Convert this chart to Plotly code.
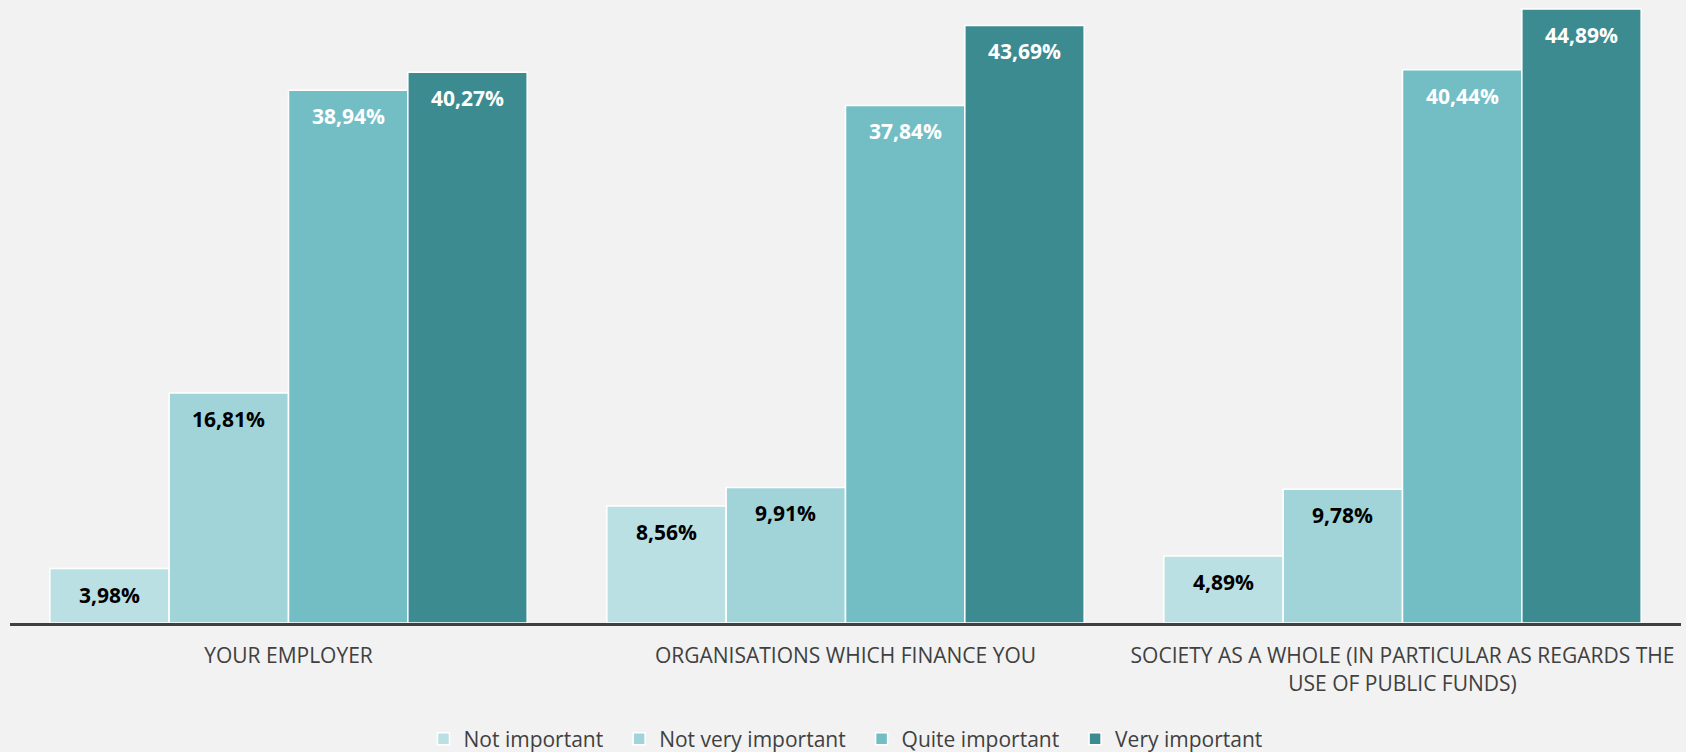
import plotly.graph_objects as go

categories = [
    "YOUR EMPLOYER",
    "ORGANISATIONS WHICH FINANCE YOU",
    "SOCIETY AS A WHOLE (IN PARTICULAR AS REGARDS THE<br>USE OF PUBLIC FUNDS)",
]
series_names = ["Not important", "Not very important", "Quite important", "Very important"]
not_important = [3.98, 8.56, 4.89]
not_very_important = [16.81, 9.91, 9.78]
quite_important = [38.94, 37.84, 40.44]
very_important = [40.27, 43.69, 44.89]

values = [not_important, not_very_important, quite_important, very_important]
colors = ["#BAE0E3", "#A0D4D8", "#73BEC5", "#3C8B91"]
text_colors = ["#000000", "#000000", "#FFFFFF", "#FFFFFF"]

FONT = "Open Sans"
BARGAP = 0.143

fig = go.Figure()
for k, (name, vals, col) in enumerate(zip(series_names, values, colors)):
    # pad legend entries (except the last) to widen spacing between items
    label = name + ("\u00a0\u00a0" if k < len(series_names) - 1 else "")
    fig.add_trace(go.Bar(
        name=label,
        x=categories,
        y=vals,
        marker=dict(color=col, line=dict(color="#FFFFFF", width=1.5)),
        hoverinfo="skip",
    ))

# data labels: placed inside the top end of each bar
n = len(values)
bar_w = (1 - BARGAP) / n
annotations = []
for k, (vals, tcol) in enumerate(zip(values, text_colors)):
    off = -(1 - BARGAP) / 2 + bar_w * (k + 0.5)
    for i, v in enumerate(vals):
        annotations.append(dict(
            x=i + off, y=v, xref="x", yref="y",
            text=f"{v:.2f}%".replace(".", ","),
            showarrow=False, yanchor="middle", xanchor="center", yshift=-26,
            font=dict(family=FONT, size=21, color=tcol, weight="bold"),
        ))

fig.update_layout(
    barmode="group",
    bargap=BARGAP,
    bargroupgap=0,
    paper_bgcolor="#F2F2F2",
    plot_bgcolor="#F2F2F2",
    width=1686,
    height=752,
    margin=dict(l=10, r=5, t=2, b=129, autoexpand=False),
    font=dict(family=FONT, color="#404040"),
    xaxis=dict(
        showline=True, linecolor="#404040", linewidth=3,
        showgrid=False, ticks="", tickfont=dict(family=FONT, size=21, color="#404040"),
        ticklabelstandoff=12,
    ),
    yaxis=dict(range=[0, 45.4], visible=False, showgrid=False, zeroline=False),
    legend=dict(
        orientation="h", x=0.5, xanchor="center", y=-0.1868, yanchor="middle",
        font=dict(family=FONT, size=21, color="#404040"),
        traceorder="normal",
    ),
    annotations=annotations,
)

fig.write_html(
    "out.html",
    config={"displayModeBar": False},
    post_script="document.body.style.margin='0';document.body.style.overflow='hidden';",
)
